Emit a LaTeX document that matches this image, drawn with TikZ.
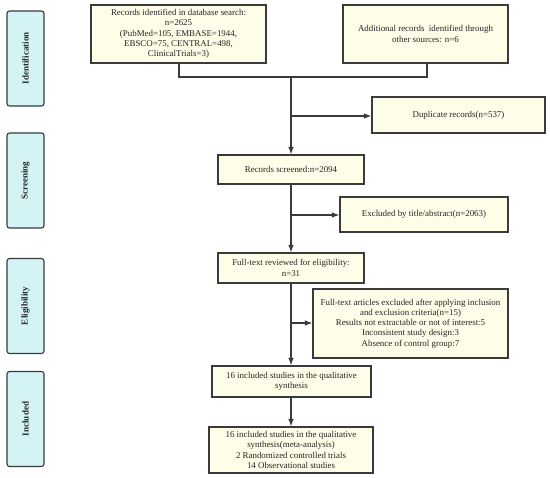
\documentclass[tikz,border=0pt]{standalone}
\usepackage{fontspec}
\setmainfont{Liberation Serif}
\usetikzlibrary{arrows.meta}
\definecolor{boxfill}{HTML}{FDFDE8}
\definecolor{sidefill}{HTML}{D3F3F5}
\definecolor{edge}{HTML}{3A3A3A}
\begin{document}
\begin{tikzpicture}[x=1pt,y=-1pt,
  flow/.style={draw=edge,line width=1.1pt,fill=boxfill,rectangle,inner sep=0pt,align=center,
    font=\fontsize{8.9}{10.2}\selectfont,text=black!85},
  side/.style={draw=edge,line width=1.1pt,fill=sidefill,rectangle,rounded corners=2.5pt,inner sep=0pt,
    minimum width=37pt,minimum height=95pt},
  sidetext/.style={rotate=90,font=\fontsize{9}{10}\selectfont\bfseries,text=black!85},
  conn/.style={draw=edge,line width=1.1pt},
  arr/.style={conn,-{Latex[length=7.5pt,width=5.5pt]}}]
\useasboundingbox (0,0) rectangle (550,478);
% side labels
\node[side] (sid) at (25.5,58.5) {};
\node[sidetext] (sidt) at (sid.center) {Identification};
\node[side] (sscr) at (25.5,180.5) {};
\node[sidetext] (sscrt) at (sscr.center) {Screening};
\node[side] (selig) at (25.5,306) {};
\node[sidetext] (seligt) at (selig.center) {Eligibility};
\node[side] (sinc) at (25.5,419) {};
\node[sidetext] (sinct) at (sinc.center) {Included};
% flow boxes
\node[flow,minimum width=175pt,minimum height=58pt] (db) at (178.5,34)
  {Records identified in database search:\\n=2625\\(PubMed=105, EMBASE=1944,\\EBSCO=75, CENTRAL=498,\\ClinicalTrials=3)};
\node[flow,minimum width=165pt,minimum height=58pt] (add) at (425.5,34)
  {Additional records\ \ identified through\\other sources: n=6};
\node[flow,minimum width=173pt,minimum height=36pt] (dup) at (458.5,115)
  {Duplicate records(n=537)};
\node[flow,minimum width=146pt,minimum height=29pt] (scr) at (291,169.5)
  {Records screened:n=2094};
\node[flow,minimum width=168pt,minimum height=35pt] (exc1) at (424,214.5)
  {Excluded by title/abstract(n=2063)};
\node[flow,minimum width=146pt,minimum height=30pt] (full) at (291,268)
  {Full-text reviewed for eligibility:\\n=31};
\node[flow,minimum width=195pt,minimum height=69pt] (exc2) at (410.5,323.5)
  {Full-text articles excluded after applying inclusion\\and exclusion criteria(n=15)\\Results not extractable or not of interest:5\\Inconsistent study design:3\\Absence of control group:7};
\node[flow,minimum width=159pt,minimum height=31pt] (inc1) at (291.5,381.5)
  {16 included studies in the qualitative\\synthesis};
\node[flow,minimum width=164pt,minimum height=46pt] (inc2) at (291,450)
  {16 included studies in the qualitative\\synthesis(meta-analysis)\\2 Randomized controlled trials\\14 Observational studies};
% connectors
\coordinate (j1) at (179,77);
\coordinate (j2) at (427,77);
\coordinate (m) at (291,77);
\coordinate (b1) at (291,116);
\coordinate (b2) at (291,215);
\coordinate (b3) at (291,323);
\draw[conn] (db.south -| j1) -- (j1) -- (j2) -- (add.south -| j2);
\draw[arr] (m) -- (scr.north -| m);
\draw[arr] (b1) -- (b1 -| dup.west);
\draw[arr] (scr.south -| m) -- (full.north -| m);
\draw[arr] (b2) -- (b2 -| exc1.west);
\draw[arr] (full.south -| m) -- (inc1.north -| m);
\draw[arr] (b3) -- (b3 -| exc2.west);
\draw[arr] (inc1.south -| m) -- (inc2.north -| m);
\end{tikzpicture}
\end{document}
